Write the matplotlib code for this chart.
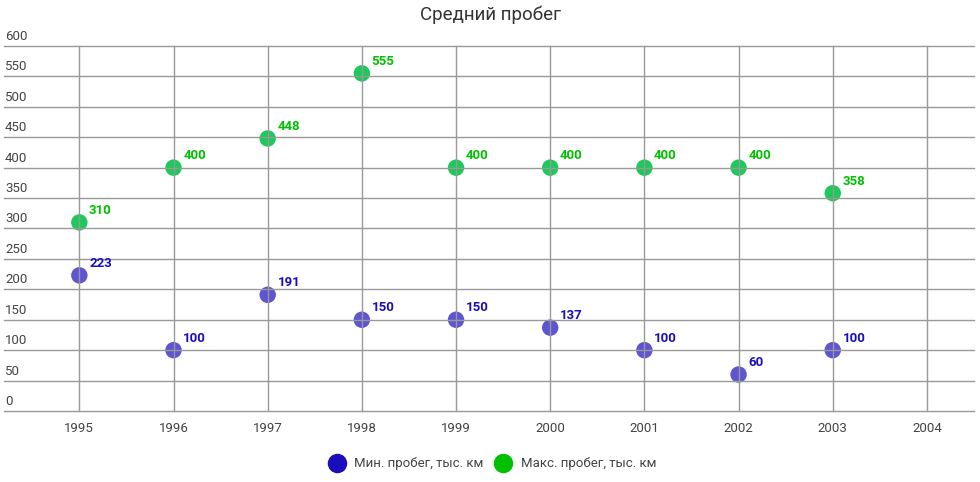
import matplotlib
matplotlib.use("Agg")
import matplotlib.pyplot as plt
import matplotlib.transforms as mtransforms

plt.rcParams["font.family"] = ["Roboto", "DejaVu Sans"]

years = [1995, 1996, 1997, 1998, 1999, 2000, 2001, 2002, 2003]
min_run = [223, 100, 191, 150, 150, 137, 100, 60, 100]
max_run = [310, 400, 448, 555, 400, 400, 400, 400, 358]
x_ticks = list(range(1995, 2005))
y_ticks = list(range(0, 601, 50))

series = [
    ("Мин. пробег, тыс. км", min_run, "#1a0dbb", "#5e55cf"),
    ("Макс. пробег, тыс. км", max_run, "#00c000", "#1cc95a"),
]

fig = plt.figure(figsize=(9.8, 4.82), dpi=100)
ax = fig.add_axes([4 / 980, 1 - 411 / 482, 970 / 980, 365 / 482])

ax.set_xlim(1994.2, 2004.5)
ax.set_ylim(0, 600)
ax.set_xticks(x_ticks)
ax.set_yticks(y_ticks)
ax.grid(True, color="#999999", linewidth=1)
ax.set_axisbelow(False)
for line in ax.get_ygridlines() + ax.get_xgridlines():
    line.set_clip_on(False)
for s in ax.spines.values():
    s.set_visible(False)
ax.tick_params(length=0, labelleft=False)
ax.set_xticklabels([str(t) for t in x_ticks], fontsize=9.5, color="#444444")
ax.tick_params(axis="x", pad=8)

# y labels sit above gridlines, inside the plot
trans = mtransforms.blended_transform_factory(ax.transAxes, ax.transData)
off = mtransforms.offset_copy(trans, fig=fig, x=1, y=3, units="dots")
for t in y_ticks:
    ax.text(0, t, str(t), transform=off, ha="left", va="bottom",
            fontsize=9.5, color="#444444")

handles = []
for label, vals, dark, light in series:
    ax.scatter(years, vals, s=140, color=light, edgecolors="none",
               zorder=1, label=label)
    handles.append(plt.Line2D([], [], marker="o", linestyle="none",
                              markersize=13, color=dark, label=label))
    for x, v in zip(years, vals):
        ax.annotate(str(v), (x, v), xytext=(7, 4), textcoords="offset points",
                    ha="left", va="bottom", fontsize=9.5, fontweight="bold",
                    color=dark)

fig.text(0.5, 1 - 15 / 482, "Средний пробег", ha="center", va="center",
         fontsize=13.5, color="#333333")

fig.legend(handles=handles, loc="center", bbox_to_anchor=(0.5, 1 - 464 / 482),
           ncol=2, frameon=False, fontsize=9.5, handletextpad=0.3,
           columnspacing=0.5, labelcolor="#444444")

fig.savefig("out.png", dpi=100)
